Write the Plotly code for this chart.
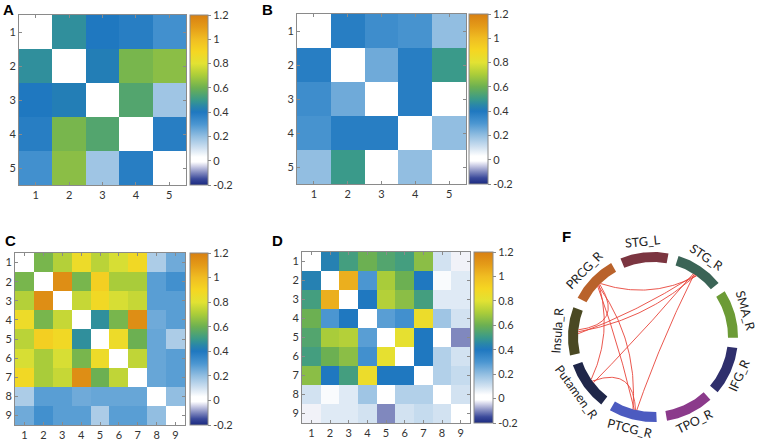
import numpy as np
import plotly.graph_objects as go

W, H = 760, 441

# ---------------- data ----------------
A_labels = ["1", "2", "3", "4", "5"]
A_values = [
    [0.00, 0.47, 0.40, 0.38, 0.32],
    [0.47, 0.00, 0.42, 0.62, 0.65],
    [0.40, 0.42, 0.00, 0.55, 0.18],
    [0.38, 0.62, 0.55, 0.00, 0.38],
    [0.32, 0.65, 0.18, 0.38, 0.00],
]
B_labels = ["1", "2", "3", "4", "5"]
B_values = [
    [0.00, 0.38, 0.33, 0.31, 0.20],
    [0.38, 0.00, 0.25, 0.38, 0.50],
    [0.33, 0.25, 0.00, 0.38, 0.00],
    [0.31, 0.38, 0.38, 0.00, 0.20],
    [0.20, 0.50, 0.00, 0.20, 0.00],
]
C_labels = ["1", "2", "3", "4", "5", "6", "7", "8", "9"]
C_values = [
    [0.00, 0.62, 0.72, 0.86, 0.73, 0.78, 0.88, 0.16, 0.25],
    [0.62, 0.00, 1.15, 0.62, 0.93, 0.70, 0.70, 0.28, 0.32],
    [0.72, 1.15, 0.00, 0.75, 0.88, 0.78, 0.75, 0.28, 0.28],
    [0.86, 0.62, 0.75, 0.00, 0.47, 0.62, 1.15, 0.25, 0.28],
    [0.73, 0.93, 0.88, 0.47, 0.00, 0.86, 0.60, 0.26, 0.16],
    [0.78, 0.70, 0.78, 0.62, 0.86, 0.00, 0.74, 0.26, 0.28],
    [0.88, 0.70, 0.75, 1.15, 0.60, 0.74, 0.00, 0.26, 0.28],
    [0.16, 0.28, 0.28, 0.25, 0.26, 0.26, 0.26, 0.00, 0.20],
    [0.25, 0.32, 0.28, 0.28, 0.16, 0.28, 0.28, 0.20, 0.00],
]
D_labels = ["1", "2", "3", "4", "5", "6", "7", "8", "9"]
D_values = [
    [0.00, 0.43, 0.52, 0.60, 0.55, 0.52, 0.65, 0.10, -0.02],
    [0.43, 0.00, 1.04, 0.30, 0.70, 0.60, 0.40, 0.04, 0.08],
    [0.52, 1.04, 0.00, 0.40, 0.72, 0.65, 0.52, 0.08, 0.08],
    [0.60, 0.30, 0.40, 0.00, 0.28, 0.32, 0.85, 0.18, 0.10],
    [0.55, 0.70, 0.72, 0.28, 0.00, 0.82, 0.40, 0.00, -0.10],
    [0.52, 0.60, 0.65, 0.32, 0.82, 0.00, 0.40, 0.15, 0.10],
    [0.65, 0.40, 0.52, 0.85, 0.40, 0.40, 0.00, 0.15, 0.12],
    [0.10, 0.04, 0.08, 0.18, 0.00, 0.15, 0.15, 0.00, 0.10],
    [-0.02, 0.08, 0.08, 0.10, -0.10, 0.10, 0.12, 0.10, 0.00],
]
cbar_ticks = [-0.2, 0, 0.2, 0.4, 0.6, 0.8, 1, 1.2]
cbar_ticktext = ["-0.2", "0", "0.2", "0.4", "0.6", "0.8", "1", "1.2"]

regions = ["STG_L", "STG_R", "SMA_R", "IFG_R", "TPO_R", "PTCG_R",
           "Putamen_R", "Insula_R", "PRCG_R"]
region_colors = ["#7b3540", "#3b6456", "#6c9b36", "#2f2f6c", "#8b3a8b",
                 "#4c5bc0", "#1f2649", "#4a4923", "#b9622b"]
edges = [
    ("PRCG_R", "STG_R"),
    ("PRCG_R", "Insula_R"),
    ("PRCG_R", "Putamen_R"),
    ("PRCG_R", "PTCG_R"),
    ("PRCG_R", "PTCG_R"),
    ("Insula_R", "STG_R"),
    ("Insula_R", "STG_R"),
    ("Putamen_R", "PTCG_R"),
    ("STG_R", "PTCG_R"),
    ("STG_R", "Putamen_R"),
]
# curvature of each chord (style): fraction of the pull toward the circle centre
edge_bend = [0.35, 0.55, 0.3, 0.6, 0.1, 0.5, 0.2, 0.5, 0.35, 0.2]

# ---------------- style ----------------
vmin, vmax = -0.2, 1.2
def f(v):
    return (v - vmin) / (vmax - vmin)
cscale = [
    [f(-0.2), "#1b2a80"], [f(-0.15), "#3b4a9b"], [f(-0.1), "#8088be"],
    [f(-0.05), "#c8cae4"], [f(-0.01), "#ffffff"], [f(0.03), "#ffffff"],
    [f(0.1), "#d2e2f1"], [f(0.2), "#92bee1"], [f(0.3), "#4b96d1"],
    [f(0.4), "#1f78c0"], [f(0.45), "#2a87a8"], [f(0.5), "#3a9a8a"],
    [f(0.6), "#6cb052"], [f(0.7), "#a9cc3a"], [f(0.8), "#e2e233"],
    [f(0.9), "#f5d622"], [f(1.0), "#f0bd22"], [f(1.1), "#e49b18"],
    [f(1.2), "#d88012"],
]
FONT = "Lato, Open Sans, sans-serif"
tickfont = dict(family=FONT, size=11, color="#333")

fig = go.Figure()

panels = [
    # name, values, labels, heatmap px box (x0,x1,y0,y1), colorbar px (x0,x1)
    ("A", A_values, A_labels, (19, 186, 15, 185), (190, 208)),
    ("B", B_values, B_labels, (297, 466, 14, 184), (469, 488)),
    ("C", C_values, C_labels, (15, 185, 253, 425), (190, 208)),
    ("D", D_values, D_labels, (302, 470, 252, 423), (474, 493)),
]

for i, (name, vals, labs, (x0, x1, y0, y1), (c0, c1)) in enumerate(panels):
    ax = "" if i == 0 else str(i + 1)
    n = len(labs)
    fig.add_trace(go.Heatmap(
        z=vals, x=list(range(1, n + 1)), y=list(range(1, n + 1)),
        zmin=vmin, zmax=vmax, colorscale=cscale,
        xaxis="x" + ax, yaxis="y" + ax, showscale=True, hoverinfo="z",
        colorbar=dict(
            x=c0 / W, xanchor="left", y=1 - (y0 + y1) / 2 / H, yanchor="middle",
            len=(y1 - y0) / H, lenmode="fraction", thickness=c1 - c0,
            thicknessmode="pixels", xpad=0, ypad=0,
            outlinecolor="#8a8a8a", outlinewidth=1,
            tickvals=cbar_ticks, ticktext=cbar_ticktext, ticks="outside",
            ticklen=3, tickcolor="#8a8a8a", tickfont=tickfont,
        ),
    ))
    common = dict(showline=True, linecolor="#8a8a8a", linewidth=1, mirror="ticks",
                  ticks="inside", ticklen=3, tickcolor="#8a8a8a", showgrid=False,
                  zeroline=False, tickfont=tickfont, fixedrange=True,
                  tickvals=list(range(1, n + 1)), ticktext=labs)
    fig.update_layout(**{
        "xaxis" + ax: dict(domain=[x0 / W, x1 / W], range=[0.5, n + 0.5],
                           anchor="y" + ax, **common),
        "yaxis" + ax: dict(domain=[1 - y1 / H, 1 - y0 / H], range=[n + 0.5, 0.5],
                           anchor="x" + ax, **common),
    })

# ---------------- panel F: circular connectivity ----------------
cx, cy = 653.0, 337.0
r_out, r_in = 85.0, 75.0
r_lab = 94.0
start_angle, step, span = 96.0, -40.0, 33.0
centers = {reg: start_angle + step * k for k, reg in enumerate(regions)}

for k, reg in enumerate(regions):
    a = centers[reg]
    t = np.radians(np.linspace(a - span / 2, a + span / 2, 40))
    xs = np.concatenate([cx + r_out * np.cos(t), cx + r_in * np.cos(t[::-1])])
    ys = np.concatenate([cy - r_out * np.sin(t), cy - r_in * np.sin(t[::-1])])
    fig.add_trace(go.Scatter(x=xs, y=ys, fill="toself", fillcolor=region_colors[k],
                             line=dict(width=0, color=region_colors[k]), mode="lines",
                             xaxis="x5", yaxis="y5", hoverinfo="text", text=reg,
                             showlegend=False))
    ang = ((a + 180) % 360) - 180
    tangle = 90 - ang if ang > 0 else -90 - ang
    rl = r_lab + (2 if ang > 0 else 0)
    fig.add_annotation(x=cx + rl * np.cos(np.radians(a)),
                       y=cy - rl * np.sin(np.radians(a)),
                       xref="x5", yref="y5", text=reg, showarrow=False,
                       xanchor="center", yanchor="middle",
                       textangle=tangle, font=dict(family=FONT, size=12.5, color="#222"))

# chord endpoints: one anchor per region, tiny spread for repeated links
attach = {reg: [] for reg in regions}
for e, (s, t_) in enumerate(edges):
    attach[s].append(e)
    attach[t_].append(e)

def endpoint(reg, e):
    lst = attach[reg]
    m = len(lst)
    j = lst.index(e)
    off = 0.0 if m == 1 else (j - (m - 1) / 2) * (3.0 / max(m - 1, 1))
    a = np.radians(centers[reg] + off)
    return cx + r_in * np.cos(a), cy - r_in * np.sin(a)

tt = np.linspace(0, 1, 60)
for e, (s, t_) in enumerate(edges):
    p0 = np.array(endpoint(s, e))
    p2 = np.array(endpoint(t_, e))
    mid = (p0 + p2) / 2
    c = mid + edge_bend[e] * (np.array([cx, cy]) - mid)
    pts = ((1 - tt)[:, None] ** 2) * p0 + (2 * (1 - tt) * tt)[:, None] * c + (tt[:, None] ** 2) * p2
    fig.add_trace(go.Scatter(x=pts[:, 0], y=pts[:, 1], mode="lines",
                             line=dict(color="#e8443a", width=0.9),
                             xaxis="x5", yaxis="y5", hoverinfo="skip", showlegend=False))

fig.update_layout(
    xaxis5=dict(domain=[540 / W, 1], range=[540, 760], visible=False, fixedrange=True),
    yaxis5=dict(domain=[0, 221 / H], range=[441, 220], visible=False, fixedrange=True,
                anchor="x5"),
)

# panel letters
for letter, px, py in [("A", 8, 10), ("B", 267, 10), ("C", 10, 240),
                       ("D", 277, 240), ("F", 566, 236)]:
    fig.add_annotation(x=px / W, y=1 - py / H, xref="paper", yref="paper",
                       xanchor="center", yanchor="middle",
                       text="<b>%s</b>" % letter, showarrow=False,
                       font=dict(family="Liberation Sans, Arial", size=15, color="#000"))

fig.update_layout(width=W, height=H, margin=dict(l=0, r=0, t=0, b=0),
                  plot_bgcolor="white", paper_bgcolor="white", showlegend=False)

fig.write_html("out.html", config={"displayModeBar": False},
               post_script="document.body.style.margin='0';document.body.style.overflow='hidden';")
